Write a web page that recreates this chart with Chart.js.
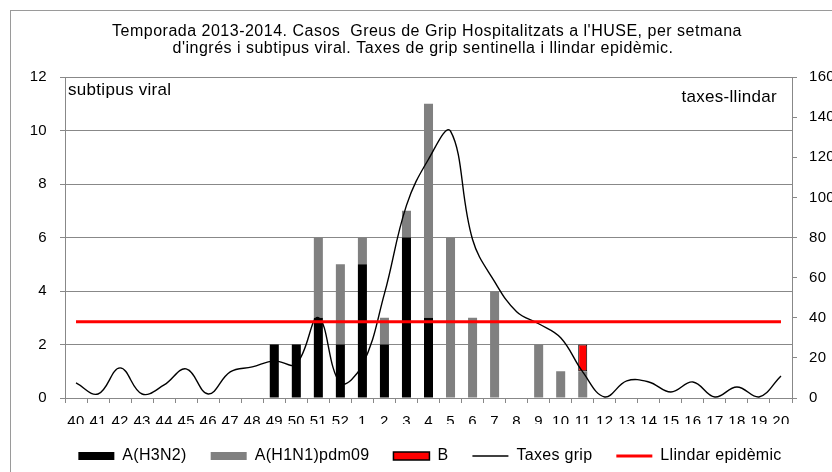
<!DOCTYPE html>
<html>
<head>
<meta charset="utf-8">
<script src="https://cdn.jsdelivr.net/npm/chart.js@4.4.1/dist/chart.umd.min.js"></script>
<style>
html,body{margin:0;padding:0;background:#fff;}
#wrap{width:832px;height:472px;position:relative;overflow:hidden;}
canvas{display:block;}
</style>
</head>
<body>
<div id="wrap"><canvas id="c" width="832" height="472"></canvas></div>
<script>
// ---- data ----
const weeks = ['40','41','42','43','44','45','46','47','48','49','50','51','52','1','2','3','4','5','6','7','8','9','10','11','12','13','14','15','16','17','18','19','20'];
const casesH3N2 = [0,0,0,0,0,0,0,0,0,2,2,3,2,5,2,6,3,0,0,0,0,0,0,0,0,0,0,0,0,0,0,0,0];
const casesH1N1 = [0,0,0,0,0,0,0,0,0,0,0,3,3,1,1,1,8,6,3,4,0,2,1,1,0,0,0,0,0,0,0,0,0];
const casesB    = [0,0,0,0,0,0,0,0,0,0,0,0,0,0,0,0,0,0,0,0,0,0,0,1,0,0,0,0,0,0,0,0,0];
const taxesGrip = [7.5,2,15,2,6.5,14.5,2,13,15.5,18.5,17,40,7.5,16.5,52,96,119,133,79,58,43,37,30,13,0.5,8.5,8,3,8,0.5,5.5,0.5,11];
const llindar   = [38,38,38,38,38,38,38,38,38,38,38,38,38,38,38,38,38,38,38,38,38,38,38,38,38,38,38,38,38,38,38,38,38];
const leftTicks = {min:0, max:12, step:2};
const rightTicks = {min:0, max:160, step:20};
const titleLines = ["Temporada 2013-2014. Casos  Greus de Grip Hospitalitzats a l'HUSE, per setmana",
                    "d'ingrés i subtipus viral. Taxes de grip sentinella i llindar epidèmic."];
const leftLabel = 'subtipus viral';
const rightLabel = 'taxes-llindar';

const FONT = '"Liberation Sans", Arial, sans-serif';
Chart.defaults.font.family = FONT;
Chart.defaults.color = '#000';
const GRID = '#888';
const LS = '0.3px';

const spacingPlugin = {
  id: 'spacing',
  beforeLayout(c){ c.ctx.letterSpacing = LS; },
  beforeDraw(c){ c.ctx.letterSpacing = LS; }
};

const decor = {
  id: 'decor',
  afterDraw(c){
    const ctx = c.ctx;
    ctx.save();
    ctx.strokeStyle = '#9a9a9a';
    ctx.lineWidth = 1;
    ctx.strokeRect(10.5, 10.5, 900, 900);
    ctx.fillStyle = '#000';
    ctx.textAlign = 'center';
    ctx.textBaseline = 'middle';
    ctx.letterSpacing = '0.5px';
    ctx.font = '16px ' + FONT;
    ctx.fillText(titleLines[0], 427, 32);
    ctx.fillText(titleLines[1], 423, 48.5);
    ctx.letterSpacing = LS;
    ctx.font = '17px ' + FONT;
    ctx.textAlign = 'left';
    ctx.fillText(leftLabel, 68, 90);
    ctx.textAlign = 'right';
    ctx.fillText(rightLabel, 777, 97);
    ctx.restore();
  }
};

new Chart(document.getElementById('c'), {
  data: {
    labels: weeks,
    datasets: [
      {type:'bar', label:'A(H3N2)', data:casesH3N2, backgroundColor:'#000000', borderWidth:0, yAxisID:'y', order:3},
      {type:'bar', label:'A(H1N1)pdm09', data:casesH1N1, backgroundColor:'#808080', borderWidth:0, yAxisID:'y', order:3},
      {type:'bar', label:'B', data:casesB, backgroundColor:'#ff0000', borderColor:'#000000', borderWidth:1, borderSkipped:false, yAxisID:'y', order:3},
      {type:'line', label:'Taxes grip', data:taxesGrip, borderColor:'#000000', backgroundColor:'#000000', borderWidth:1.4, pointRadius:0, tension:0.4, fill:false, yAxisID:'y1', order:1},
      {type:'line', label:'Llindar epidèmic', data:llindar, borderColor:'#ff0000', backgroundColor:'#ff0000', borderWidth:3, pointRadius:0, tension:0, fill:false, yAxisID:'y1', order:0}
    ]
  },
  options: {
    responsive:false,
    animation:false,
    devicePixelRatio:1,
    layout:{padding:{left:28, right:0, top:77, bottom:-2}},
    datasets:{bar:{barPercentage:0.41, categoryPercentage:1}},
    plugins:{
      tooltip:{enabled:false},
      title:{display:false},
      legend:{
        position:'bottom',
        labels:{
          usePointStyle:true, pointStyleWidth:36, boxWidth:36, boxHeight:8, padding:24,
          font:{size:16}, color:'#000',
          sort:(a,b)=>a.datasetIndex-b.datasetIndex,
          generateLabels:(chart)=>chart.data.datasets.map((ds,i)=>({
            text: ds.label, datasetIndex:i, hidden:false, fontColor:'#000',
            fillStyle: ds.type==='line' ? ds.borderColor : ds.backgroundColor,
            strokeStyle: ds.type==='line' ? ds.borderColor : (ds.borderColor||ds.backgroundColor),
            lineWidth: ds.type==='line' ? ds.borderWidth : (ds.borderWidth ? 1.5 : 0),
            pointStyle: ds.type==='line' ? 'line' : 'rect'
          }))
        }
      }
    },
    scales:{
      x:{
        stacked:true, offset:true,
        grid:{display:true, drawOnChartArea:false, drawTicks:true, tickLength:5, color:GRID, offset:true},
        border:{display:true, color:GRID},
        ticks:{font:{size:15}, padding:10, maxRotation:0, autoSkip:false, color:'#000'},
        afterFit:(s)=>{ s.height = 26; }
      },
      y:{
        position:'left', stacked:true, min:leftTicks.min, max:leftTicks.max,
        ticks:{stepSize:leftTicks.step, font:{size:15}, padding:13, color:'#000'},
        grid:{color:GRID, tickLength:5},
        border:{display:true, color:GRID},
        afterFit:(s)=>{ s.width = 37; }
      },
      y1:{
        position:'right', stacked:false, min:rightTicks.min, max:rightTicks.max,
        ticks:{stepSize:rightTicks.step, font:{size:15}, padding:12, color:'#000'},
        grid:{drawOnChartArea:false, color:GRID, tickLength:5},
        border:{display:true, color:GRID},
        afterFit:(s)=>{ s.width = 40; }
      }
    }
  },
  plugins:[spacingPlugin, decor]
});
</script>
</body>
</html>
